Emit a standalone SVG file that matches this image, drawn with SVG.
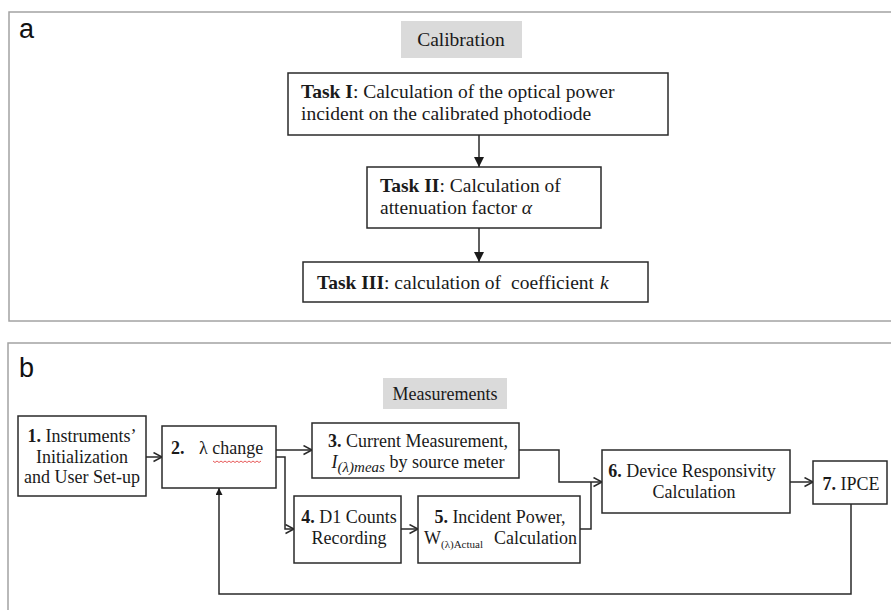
<svg xmlns="http://www.w3.org/2000/svg" width="891" height="610" viewBox="0 0 891 610">
<style>
.panel{fill:none;stroke:#a3a3a3;stroke-width:1.5}
.lbl{font-family:"Liberation Sans",Arial,sans-serif;font-size:27px;fill:#111}
.box{fill:#fff;stroke:#2a2a2a;stroke-width:1.5}
.gray{fill:#dadada;stroke:none}
.t{font-family:"Liberation Serif","Times New Roman",serif;fill:#1a1a1a}
.ta{font-size:19.5px}
.tb{font-size:18px}
.b{font-weight:bold}
.i{font-style:italic}
.c{fill:none;stroke:#2a2a2a;stroke-width:1.5}
</style>
<defs>
<marker id="tri" markerUnits="userSpaceOnUse" markerWidth="10" markerHeight="10" refX="10" refY="5" orient="auto"><path d="M0,0 L10,5 L0,10 z" fill="#1a1a1a"/></marker>
<marker id="tris" markerUnits="userSpaceOnUse" markerWidth="8" markerHeight="8" refX="7" refY="3.5" orient="auto"><path d="M0,0 L7,3.5 L0,7 z" fill="#1a1a1a"/></marker>
<marker id="chev" markerUnits="userSpaceOnUse" markerWidth="12" markerHeight="12" refX="9.5" refY="5.5" orient="auto"><path d="M1,1 L9.5,5.5 L1,10" fill="none" stroke="#2a2a2a" stroke-width="1.5"/></marker>
</defs>
<rect width="891" height="610" fill="#fff"/>
<rect class="panel" x="9" y="12" width="890" height="309"/>
<rect class="panel" x="8" y="343" width="891" height="275"/>
<text class="lbl" x="19" y="38">a</text>
<text class="lbl" x="19" y="377">b</text>

<g id="connectors">
<path class="c" d="M479,135 V167" marker-end="url(#tri)"/>
<path class="c" d="M479,228 V262" marker-end="url(#tri)"/>
<path class="c" d="M146,457 H162" marker-end="url(#chev)"/>
<path class="c" d="M276,450 H312" marker-end="url(#chev)"/>
<path class="c" d="M276,457 H285 V529 H294" marker-end="url(#chev)"/>
<path class="c" d="M401,529 H418" marker-end="url(#chev)"/>
<path class="c" d="M519,450 H559 V482 H602" marker-end="url(#chev)"/>
<path class="c" d="M580,529 H591 V482"/>
<path class="c" d="M790,482 H813" marker-end="url(#chev)"/>
<path class="c" d="M851,504 V594 H219 V488" marker-end="url(#tris)"/>
</g>

<g id="calibration">
<rect class="gray" x="401" y="21" width="121" height="37"/>
<text class="t ta" x="461" y="46" text-anchor="middle">Calibration</text>
</g>
<g id="task1">
<rect class="box" x="288" y="73" width="380" height="62"/>
<text class="t ta" x="301" y="98"><tspan class="b">Task I</tspan>: Calculation of the optical power</text>
<text class="t ta" x="301" y="120">incident on the calibrated photodiode</text>
</g>
<g id="task2">
<rect class="box" x="367" y="167" width="234" height="61"/>
<text class="t ta" x="380" y="192"><tspan class="b">Task II</tspan>: Calculation of</text>
<text class="t ta" x="380" y="214">attenuation factor <tspan class="i">α</tspan></text>
</g>
<g id="task3">
<rect class="box" x="303" y="262" width="345" height="40"/>
<text class="t ta" x="317" y="289"><tspan class="b">Task III</tspan>: calculation of<tspan dx="10">coefficient</tspan><tspan class="i" dx="6">k</tspan></text>
</g>

<g id="measurements">
<rect class="gray" x="383" y="378" width="124" height="31"/>
<text class="t tb" x="445" y="400" text-anchor="middle">Measurements</text>
</g>
<g id="n1">
<rect class="box" x="18" y="416" width="128" height="80"/>
<text class="t tb" x="82" y="442" text-anchor="middle"><tspan class="b">1.</tspan> Instruments’</text>
<text class="t tb" x="82" y="463" text-anchor="middle">Initialization</text>
<text class="t tb" x="82" y="483" text-anchor="middle">and User Set-up</text>
</g>
<g id="n2">
<rect class="box" x="162" y="426" width="114" height="62"/>
<text class="t tb" x="171" y="454"><tspan class="b">2.</tspan><tspan x="199">λ change</tspan></text>
<path d="M213,461 l2,1.5 l2,-1.5 l2,1.5 l2,-1.5 l2,1.5 l2,-1.5 l2,1.5 l2,-1.5 l2,1.5 l2,-1.5 l2,1.5 l2,-1.5 l2,1.5 l2,-1.5 l2,1.5 l2,-1.5 l2,1.5 l2,-1.5 l2,1.5 l2,-1.5 l2,1.5 l2,-1.5 l2,1.5 l2,-1.5" fill="none" stroke="#e03030" stroke-width="0.8"/>
</g>
<g id="n3">
<rect class="box" x="312" y="423" width="207" height="55"/>
<text class="t tb" x="418" y="447" text-anchor="middle"><tspan class="b">3.</tspan> Current Measurement,</text>
<text class="t tb" x="418" y="468" text-anchor="middle"><tspan class="i">I</tspan><tspan class="i" font-size="15" dy="4">(λ)meas</tspan><tspan dy="-4"> by source meter</tspan></text>
</g>
<g id="n4">
<rect class="box" x="294" y="496" width="107" height="67"/>
<text class="t tb" x="349" y="523" text-anchor="middle"><tspan class="b">4.</tspan> D1 Counts</text>
<text class="t tb" x="349" y="544" text-anchor="middle">Recording</text>
</g>
<g id="n5">
<rect class="box" x="418" y="496" width="162" height="67"/>
<text class="t tb" x="500" y="523" text-anchor="middle"><tspan class="b">5.</tspan> Incident Power,</text>
<text class="t tb" x="424" y="544">W<tspan font-size="11" dy="4">(λ)Actual</tspan></text>
<text class="t tb" x="577" y="544" text-anchor="end">Calculation</text>
</g>
<g id="n6">
<rect class="box" x="602" y="450" width="188" height="63"/>
<text class="t tb" x="692" y="477" text-anchor="middle"><tspan class="b">6.</tspan> Device Responsivity</text>
<text class="t tb" x="694" y="498" text-anchor="middle">Calculation</text>
</g>
<g id="n7">
<rect class="box" x="813" y="461" width="74" height="43"/>
<text class="t tb" x="851" y="490" text-anchor="middle"><tspan class="b">7.</tspan> IPCE</text>
</g>
</svg>
